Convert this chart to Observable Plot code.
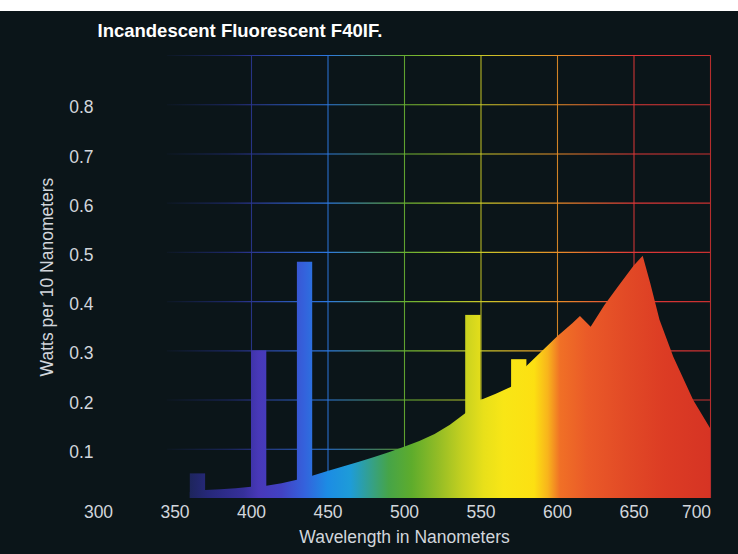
<!DOCTYPE html>
<html>
<head>
<meta charset="utf-8">
<script src="https://cdn.jsdelivr.net/npm/d3@7"></script>
<script src="https://cdn.jsdelivr.net/npm/@observablehq/plot@0.6"></script>
<style>
  html, body { margin: 0; padding: 0; background: #ffffff; }
  #strip { height: 11px; background: #ffffff; }
  #chart svg { display: block; background: #0b1519; }
</style>
</head>
<body>
<div id="strip"></div>
<div id="chart"></div>
<script>
// ---- Data ----
const title = "Incandescent Fluorescent F40IF.";
const xLabel = "Wavelength in Nanometers";
const yLabel = "Watts per 10 Nanometers";

const xTicks = [300, 350, 400, 450, 500, 550, 600, 650, 700];
const xTickLabels = ["300", "350", "400", "450", "500", "550", "600", "650", "700"];
const yTicks = [0.1, 0.2, 0.3, 0.4, 0.5, 0.6, 0.7, 0.8];
const yTickLabels = ["0.1", "0.2", "0.3", "0.4", "0.5", "0.6", "0.7", "0.8"];

// continuous (incandescent + phosphor) spectrum
const contNm = [360, 370, 380, 390, 400, 410, 420, 430, 440, 450, 460, 470, 480, 490, 500,
                510, 520, 530, 540, 550, 560, 570, 580, 590, 600, 610, 615, 622, 631, 640,
                650, 656, 661, 667, 676, 689, 700];
const contWatts = [0.012, 0.016, 0.018, 0.020, 0.023, 0.025, 0.030, 0.037, 0.045, 0.055, 0.064, 0.073, 0.083, 0.093, 0.104,
                   0.116, 0.130, 0.149, 0.172, 0.199, 0.212, 0.226, 0.268, 0.298, 0.328, 0.355, 0.370, 0.348, 0.392, 0.430,
                   0.472, 0.492, 0.436, 0.362, 0.287, 0.199, 0.142];

// mercury emission lines (10 nm bands)
const lineNames = ["365", "405", "436", "546", "578"];
const lineStart = [360, 400, 430, 540, 570];
const lineEnd = [370, 410, 440, 550, 580];
const lineWatts = [0.050, 0.300, 0.480, 0.372, 0.282];

// grid
const hGrid = [0.1, 0.2, 0.3, 0.4, 0.5, 0.6, 0.7, 0.8, 0.9];
const vGrid = [400, 450, 500, 550, 600, 650, 700];
const vGridColors = ["#2a3690", "#2c78e0", "#68b032", "#c8c828", "#e88e28", "#e03838", "#c83030"];

// spectrum colour stops (nm, colour)
const specNm = [355, 372, 395, 405, 420, 435, 450, 465, 478, 490, 505, 522, 538, 552, 565, 585, 594, 602, 620, 645, 670, 700];
const specColors = ["#1a2450", "#26287a", "#36309a", "#4838b8", "#4242c4", "#3462dc", "#1c8ce4", "#1e9cd8", "#34a08c",
                    "#46a448", "#5eac2c", "#92bc26", "#c4d020", "#e8e01a", "#f8e616", "#fce012", "#f8b41c", "#f07026",
                    "#ea5a28", "#e24a26", "#dc3c24", "#d63424"];
const gridNm = [340, 385, 400, 450, 500, 550, 600, 650, 700];
const gridColors = ["#0b1519", "#1c2868", "#2a3690", "#2c78e0", "#68b032", "#c8c828", "#e88e28", "#e03838", "#c83030"];

// ---- Build tables ----
const continuum = contNm.map((nm, i) => ({nm, w: contWatts[i]}));
const lines = lineNames.map((name, i) => ({name, x1: lineStart[i], x2: lineEnd[i], w: lineWatts[i]}));
const xTickData = xTicks.map((x, i) => ({x, label: xTickLabels[i]}));
const yTickData = yTicks.map((y, i) => ({y, label: yTickLabels[i]}));

const font = "'Liberation Sans', Arial, Helvetica, sans-serif";
const textColor = "#d2d6dc";

const plot = Plot.plot({
  width: 738,
  height: 543,
  marginLeft: 98,
  marginRight: 28,
  marginTop: 44,
  marginBottom: 56,
  style: {background: "#0b1519", color: textColor, fontFamily: font, fontSize: "17.5px"},
  x: {domain: [300, 700], axis: null},
  y: {domain: [0, 0.9], axis: null},
  marks: [
    Plot.ruleY(hGrid, {y: d => d, x1: () => 345, x2: () => 700, stroke: "url(#gridH)", strokeWidth: 1.1}),
    Plot.ruleX(vGrid, {x: d => d, y1: () => 0, y2: () => 0.9, stroke: vGridColors, strokeWidth: 1.1, strokeOpacity: 0.9}),
    Plot.areaY(continuum, {x: "nm", y: "w", fill: "url(#spec)", curve: "linear"}),
    Plot.rectY(lines, {x1: "x1", x2: "x2", y: "w", fill: "url(#spec)"}),
    // x tick labels (last one pulled inside the frame as in the reference)
    Plot.text(xTickData.slice(0, -1), {x: "x", text: "label", frameAnchor: "bottom", textAnchor: "middle",
      lineAnchor: "middle", dy: 14, fill: textColor, fontSize: 17.5}),
    Plot.text(xTickData.slice(-1), {x: "x", text: "label", frameAnchor: "bottom", textAnchor: "middle",
      lineAnchor: "middle", dy: 14, dx: -14, fill: textColor, fontSize: 17.5}),
    // y tick labels
    Plot.text(yTickData, {y: "y", text: "label", frameAnchor: "left", textAnchor: "end",
      lineAnchor: "middle", dx: -5, dy: 3, fill: textColor, fontSize: 17.5}),
    Plot.text([title], {frameAnchor: "top-left", textAnchor: "start", lineAnchor: "bottom", dx: -1, dy: -19,
      fill: "#ffffff", fontWeight: "bold", fontSize: 18.5}),
    Plot.text([yLabel], {frameAnchor: "left", textAnchor: "middle", lineAnchor: "middle", rotate: -90, dx: -51,
      fill: textColor, fontSize: 17.5}),
    Plot.text([xLabel], {frameAnchor: "bottom", textAnchor: "middle", lineAnchor: "middle", dy: 39,
      fill: textColor, fontSize: 17.5})
  ]
});

// gradients in user space, aligned to the x scale
const xs = plot.scale("x");
const svgNS = "http://www.w3.org/2000/svg";
const defs = document.createElementNS(svgNS, "defs");
function addGradient(id, nms, cols) {
  const g = document.createElementNS(svgNS, "linearGradient");
  g.setAttribute("id", id);
  g.setAttribute("gradientUnits", "userSpaceOnUse");
  g.setAttribute("x1", xs.apply(nms[0]));
  g.setAttribute("x2", xs.apply(nms[nms.length - 1]));
  g.setAttribute("y1", 0);
  g.setAttribute("y2", 0);
  const span = nms[nms.length - 1] - nms[0];
  nms.forEach((nm, i) => {
    const s = document.createElementNS(svgNS, "stop");
    s.setAttribute("offset", (nm - nms[0]) / span);
    s.setAttribute("stop-color", cols[i]);
    g.appendChild(s);
  });
  defs.appendChild(g);
}
addGradient("spec", specNm, specColors);
addGradient("gridH", gridNm, gridColors);
plot.insertBefore(defs, plot.firstChild);

document.getElementById("chart").appendChild(plot);
</script>
</body>
</html>
